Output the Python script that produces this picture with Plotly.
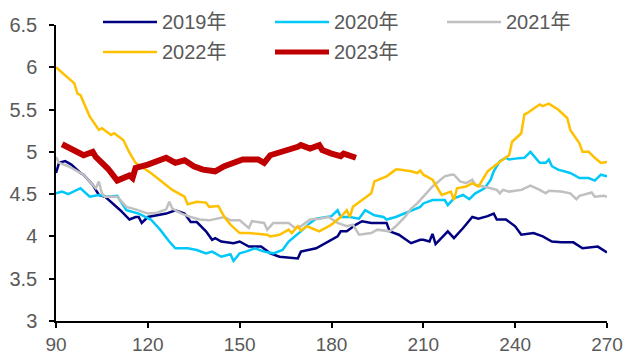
import plotly.graph_objects as go

# Daily values by day-of-year for each year
days_2019 = [90, 91, 93, 95, 98, 99, 102, 104, 106, 108, 111, 114, 116, 117, 118, 120, 126, 129, 132, 134,
             136, 139, 141, 142, 144, 148, 150, 153, 157, 160, 163, 169, 170, 175, 178, 182, 183, 185, 188, 190,
             193, 195, 198, 199, 202, 206, 209, 210, 212, 213, 214, 218, 220, 223, 226, 228, 231, 233, 234, 237,
             240, 242, 246, 249, 252, 255, 259, 262, 265, 267, 270]
vals_2019 = [4.75, 4.87, 4.89, 4.85, 4.75, 4.73, 4.61, 4.49, 4.47, 4.41, 4.31, 4.20, 4.23, 4.23, 4.16, 4.23, 4.27, 4.31, 4.27, 4.17,
             4.17, 4.06, 3.96, 3.98, 3.94, 3.92, 3.94, 3.88, 3.88, 3.80, 3.76, 3.74, 3.82, 3.86, 3.92, 4.00, 4.06, 4.06, 4.14, 4.18,
             4.16, 4.16, 4.16, 4.06, 4.02, 3.92, 3.96, 3.96, 3.94, 4.03, 3.91, 4.06, 3.98, 4.10, 4.23, 4.21, 4.24, 4.27, 4.20, 4.20,
             4.12, 4.02, 4.04, 4.00, 3.94, 3.93, 3.93, 3.86, 3.87, 3.88, 3.81]

days_2020 = [90, 92, 94, 98, 101, 104, 107, 110, 113, 117, 121, 124, 127, 129, 133, 136, 139, 141, 144, 147,
             148, 150, 152, 155, 158, 161, 164, 166, 170, 173, 175, 180, 182, 183, 186, 189, 191, 194, 197, 198,
             201, 205, 209, 210, 213, 217, 218, 220, 223, 225, 227, 230, 232, 233, 235, 237, 238, 240, 243, 245,
             248, 250, 251, 252, 254, 258, 261, 264, 266, 268, 270]
vals_2020 = [4.51, 4.53, 4.50, 4.57, 4.47, 4.49, 4.47, 4.48, 4.31, 4.27, 4.20, 4.08, 3.94, 3.86, 3.86, 3.84, 3.80, 3.82, 3.76, 3.79,
             3.71, 3.80, 3.82, 3.86, 3.82, 3.80, 3.84, 3.94, 4.06, 4.16, 4.21, 4.24, 4.31, 4.23, 4.23, 4.21, 4.31, 4.25, 4.23, 4.20,
             4.23, 4.29, 4.35, 4.39, 4.43, 4.43, 4.37, 4.45, 4.49, 4.44, 4.51, 4.57, 4.67, 4.77, 4.89, 4.93, 4.91, 4.92, 4.93, 5.00,
             4.87, 4.87, 4.91, 4.83, 4.79, 4.75, 4.69, 4.69, 4.66, 4.73, 4.71]

days_2021 = [90, 91, 94, 96, 99, 101, 103, 104, 105, 106, 109, 110, 113, 116, 120, 123, 126, 127, 128, 131,
             134, 137, 140, 145, 147, 150, 153, 154, 158, 159, 161, 166, 168, 170, 173, 176, 179, 182, 185, 187,
             189, 193, 195, 199, 201, 204, 206, 208, 210, 213, 217, 219, 220, 222, 224, 226, 227, 230, 232, 234,
             235, 236, 238, 242, 245, 248, 250, 251, 255, 258, 260, 261, 265, 266, 269, 270]
vals_2021 = [4.94, 4.87, 4.83, 4.79, 4.73, 4.65, 4.57, 4.65, 4.51, 4.47, 4.47, 4.47, 4.35, 4.32, 4.27, 4.28, 4.32, 4.41, 4.33, 4.27,
             4.23, 4.20, 4.19, 4.23, 4.19, 4.19, 4.10, 4.18, 4.16, 4.08, 4.16, 4.16, 4.10, 4.12, 4.20, 4.21, 4.23, 4.16, 4.12, 4.14,
             4.02, 4.04, 4.08, 4.06, 4.12, 4.23, 4.33, 4.39, 4.47, 4.59, 4.71, 4.73, 4.73, 4.65, 4.63, 4.67, 4.61, 4.59, 4.57, 4.55,
             4.51, 4.55, 4.53, 4.55, 4.60, 4.55, 4.51, 4.54, 4.53, 4.51, 4.44, 4.48, 4.52, 4.47, 4.48, 4.47]

days_2022 = [90, 96, 97, 98, 101, 104, 105, 108, 109, 112, 114, 116, 121, 126, 128, 132, 133, 136, 139, 140,
             143, 145, 147, 150, 153, 159, 160, 163, 166, 167, 169, 170, 172, 176, 180, 183, 185, 186, 187, 190,
             193, 194, 198, 201, 202, 206, 208, 209, 210, 213, 216, 219, 220, 221, 224, 226, 228, 231, 233, 236,
             238, 239, 242, 243, 244, 248, 249, 251, 254, 257, 258, 261, 262, 264, 266, 268, 270]
vals_2022 = [6.00, 5.81, 5.69, 5.67, 5.42, 5.26, 5.28, 5.20, 5.22, 5.14, 4.99, 4.87, 4.75, 4.61, 4.55, 4.47, 4.38, 4.41, 4.40, 4.35,
             4.36, 4.23, 4.14, 4.04, 4.04, 4.02, 4.00, 4.02, 4.08, 4.04, 4.12, 4.07, 4.12, 4.06, 4.14, 4.23, 4.31, 4.23, 4.35, 4.43,
             4.51, 4.65, 4.71, 4.79, 4.79, 4.77, 4.75, 4.78, 4.73, 4.67, 4.49, 4.53, 4.43, 4.57, 4.59, 4.63, 4.59, 4.77, 4.83, 4.91,
             4.96, 5.12, 5.22, 5.44, 5.46, 5.56, 5.54, 5.57, 5.50, 5.40, 5.26, 5.10, 5.00, 5.00, 4.93, 4.87, 4.88]

days_2023 = [92, 95, 99, 102, 103, 107, 110, 114, 115, 116, 120, 126, 129, 132, 135, 138, 142, 145, 150, 151,
             156, 158, 160, 164, 169, 170, 173, 176, 177, 180, 183, 184, 188]
vals_2023 = [5.09, 5.04, 4.96, 5.00, 4.94, 4.80, 4.66, 4.72, 4.69, 4.81, 4.85, 4.93, 4.87, 4.90, 4.83, 4.79, 4.77, 4.83, 4.89, 4.91,
             4.91, 4.87, 4.96, 5.00, 5.06, 5.08, 5.04, 5.08, 5.02, 4.98, 4.95, 4.98, 4.93]

series_names = ["2019年", "2020年", "2021年", "2022年", "2023年"]
series_days = [days_2019, days_2020, days_2021, days_2022, days_2023]
series_vals = [vals_2019, vals_2020, vals_2021, vals_2022, vals_2023]

x_ticks = [90, 120, 150, 180, 210, 240, 270]
y_ticks = [3, 3.5, 4, 4.5, 5, 5.5, 6, 6.5]
y_tick_labels = ["3", "3.5", "4", "4.5", "5", "5.5", "6", "6.5"]

colors = ["#000080", "#00C8F8", "#C0C0C0", "#FFC000", "#C00000"]
widths = [2.5, 2.5, 2.5, 2.5, 6]

FONT = "Arial, 'Liberation Sans', 'Noto Sans CJK SC', sans-serif"
TEXT_COLOR = "#595959"

W, H = 628, 356
M_L, M_R, M_T, M_B = 56, 21, 25, 35
PW, PH = W - M_L - M_R, H - M_T - M_B

fig = go.Figure()
for name, xs, ys, c, w in zip(series_names, series_days, series_vals, colors, widths):
    fig.add_trace(go.Scatter(x=xs, y=ys, mode="lines", name=name,
                             line=dict(color=c, width=w), showlegend=False))

# Legend drawn as line swatches + labels in a 3-column grid
def px_x(px):
    return (px - M_L) / PW

def px_y(py):
    return (H - M_B - py) / PH

legend_cols = [103, 275, 447]
legend_rows = [22, 52]
shapes, annotations = [], []
for i, (name, c, w) in enumerate(zip(series_names, colors, widths)):
    col, row = i % 3, i // 3
    x0 = legend_cols[col]
    yy = legend_rows[row]
    shapes.append(dict(type="line", xref="paper", yref="paper",
                       x0=px_x(x0), x1=px_x(x0 + 54), y0=px_y(yy), y1=px_y(yy),
                       line=dict(color=c, width=w if w < 5 else 5)))
    annotations.append(dict(xref="paper", yref="paper", x=px_x(x0 + 57), y=px_y(yy),
                            xanchor="left", yanchor="middle", text=name, showarrow=False,
                            font=dict(family=FONT, size=20, color=TEXT_COLOR)))

fig.update_layout(
    width=W, height=H,
    margin=dict(l=M_L, r=M_R, t=M_T, b=M_B, autoexpand=False),
    paper_bgcolor="white", plot_bgcolor="white",
    shapes=shapes, annotations=annotations,
    font=dict(family=FONT, size=20, color=TEXT_COLOR),
)
fig.update_xaxes(range=[90, 270], tickvals=x_ticks, showgrid=False, zeroline=False,
                 showline=True, linecolor="black", linewidth=1.5, automargin=False,
                 ticks="outside", ticklen=5, tickwidth=1.5, tickcolor="black",
                 ticklabelstandoff=0,
                 tickfont=dict(family=FONT, size=19, color=TEXT_COLOR))
fig.update_yaxes(range=[3, 6.5], tickvals=y_ticks, ticktext=y_tick_labels, showgrid=False, zeroline=False,
                 showline=True, linecolor="black", linewidth=1.5, automargin=False,
                 ticks="outside", ticklen=5, tickwidth=1.5, tickcolor="black",
                 ticklabelstandoff=8,
                 tickfont=dict(family=FONT, size=20, color=TEXT_COLOR))

fig.write_html("out.html")
